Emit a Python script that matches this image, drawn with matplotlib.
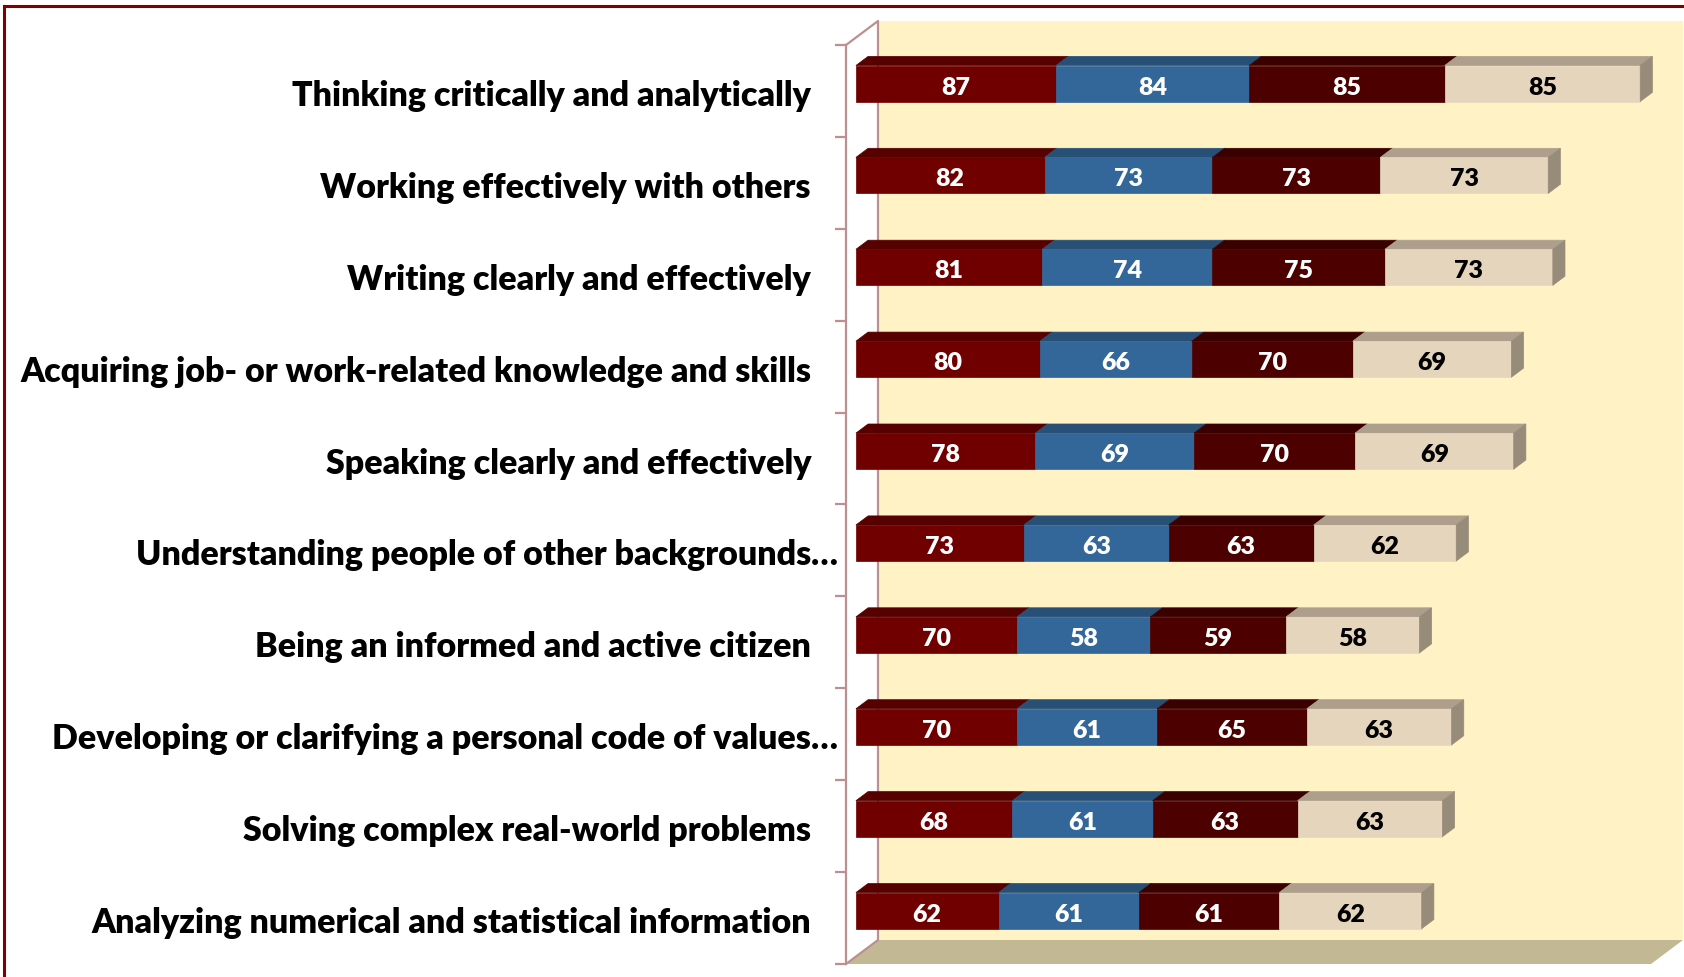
import numpy as np
import matplotlib.pyplot as plt
from matplotlib.patches import Polygon
from matplotlib.lines import Line2D

plt.rcParams['font.family'] = ['Lato', 'DejaVu Sans']

# --- DATOS ---
categories = [
    "Thinking critically and analytically",
    "Working effectively with others",
    "Writing clearly and effectively",
    "Acquiring job- or work-related knowledge and skills",
    "Speaking clearly and effectively",
    "Understanding people of other backgrounds…",
    "Being an informed and active citizen",
    "Developing or clarifying a personal code of values…",
    "Solving complex real-world problems",
    "Analyzing numerical and statistical information",
]
series_1 = [87, 82, 81, 80, 78, 73, 70, 70, 68, 62]
series_2 = [84, 73, 74, 66, 69, 63, 58, 61, 61, 61]
series_3 = [85, 73, 75, 70, 70, 63, 59, 65, 63, 61]
series_4 = [85, 73, 73, 69, 69, 62, 58, 63, 63, 62]
x_max = 350

# --- ESTILO ---
front_colors = ['#700000', '#346799', '#4C0000', '#E6D5BD']
top_colors = ['#570000', '#284F76', '#3A0000', '#AE9F8D']
side_color = '#978B79'
text_colors = ['white', 'white', 'white', 'black']
wall_color = '#FFF3C6'
floor_color = '#C2B894'
axis_color = '#BC9090'
border_color = '#7F0000'
LABEL_SIZE, VALUE_SIZE, WEIGHT = 24.5, 18, 'heavy'

W, H = 1684, 977
AX_L, AX_R, AX_T, AX_B = 846, 1684, 45, 964
PX_UNIT = 2.3
n = len(categories)
row_px = (AX_B - AX_T) / n
DEPTH_DX = 32 / PX_UNIT       # profundidad de la caja 3D (unidades de datos)
DEPTH_DY = 24 / row_px
D0, D1 = 0.31, 0.69           # profundidad de las barras
BAR_H = 36 / row_px


def proj(v, d, y):
    return (v + d * DEPTH_DX, y - d * DEPTH_DY)


fig = plt.figure(figsize=(W / 100, H / 100), dpi=100)
ax = fig.add_axes([AX_L / W, 1 - AX_B / H, (AX_R - AX_L) / W, (AX_B - AX_T) / H])
ax.set_xlim(0, (AX_R - AX_L) / PX_UNIT)
ax.set_ylim(n - 0.5, -0.5)
ax.patch.set_alpha(0)

# Paredes
back = [proj(0, 1, -0.5), proj(x_max, 1, -0.5), proj(x_max, 1, n - 0.5), proj(0, 1, n - 0.5)]
ax.add_patch(Polygon(back, closed=True, color=wall_color, lw=0, clip_on=False, zorder=0))
floor = [proj(0, 0, n - 0.5), proj(x_max, 0, n - 0.5), proj(x_max, 1, n - 0.5), proj(0, 1, n - 0.5)]
ax.add_patch(Polygon(floor, closed=True, color=floor_color, lw=0, clip_on=False, zorder=0))
side = [proj(0, 0, -0.5), proj(0, 1, -0.5), proj(0, 1, n - 0.5), proj(0, 0, n - 0.5)]
ax.plot(*zip(*side), color=axis_color, lw=1.6, clip_on=False, zorder=1)

# Eje frontal
for s in ['top', 'right', 'bottom']:
    ax.spines[s].set_visible(False)
ax.spines['left'].set_color(axis_color)
ax.spines['left'].set_linewidth(1.6)
ax.set_xticks([])
ax.set_yticks(np.arange(-0.5, n, 1))
ax.tick_params(axis='y', length=8, width=1.6, color=axis_color, labelleft=False)

# Barras apiladas 3D
series = [series_1, series_2, series_3, series_4]
ddx = (D1 - D0) * DEPTH_DX
ddy = (D1 - D0) * DEPTH_DY
for i in range(n):
    x0, yc = proj(0, D0, i)
    top_y, bot_y = yc - BAR_H / 2, yc + BAR_H / 2
    left = x0
    for k, s in enumerate(series):
        v = s[i]
        right = left + v
        ax.add_patch(Polygon([(left, top_y), (right, top_y), (right + ddx, top_y - ddy),
                              (left + ddx, top_y - ddy)], closed=True, color=top_colors[k],
                             lw=0.5, clip_on=False, zorder=3))
        ax.barh(yc, v, left=left, height=BAR_H, color=front_colors[k],
                edgecolor=front_colors[k], lw=0.5, zorder=3)
        ax.text((left + right) / 2, yc + 11 / row_px, str(v), ha='center', va='baseline',
                fontsize=VALUE_SIZE, fontweight=WEIGHT, color=text_colors[k], zorder=5)
        left = right
    ax.add_patch(Polygon([(left, top_y), (left + ddx, top_y - ddy), (left + ddx, bot_y - ddy),
                          (left, bot_y)], closed=True, color=side_color, lw=0.5,
                         clip_on=False, zorder=3))

# Etiquetas de categoría
label_x = -35 / PX_UNIT
for i, lab in enumerate(categories):
    y = i + 15 / row_px
    if lab.endswith('…'):
        ax.text(label_x, y, lab[:-1], ha='right', va='baseline', fontsize=LABEL_SIZE,
                fontweight=WEIGHT, clip_on=False)
        ax.text(label_x, y, '…', ha='left', va='baseline', fontsize=LABEL_SIZE,
                fontweight=WEIGHT, clip_on=False)
    else:
        ax.text(label_x, y, lab, ha='right', va='baseline', fontsize=LABEL_SIZE,
                fontweight=WEIGHT, clip_on=False)

# Marco exterior
fig.add_artist(Line2D([4 / W, 4 / W], [0, 1 - 6 / H], color=border_color, lw=2.2))
fig.add_artist(Line2D([4 / W, 1], [1 - 6 / H, 1 - 6 / H], color=border_color, lw=2.2))

fig.savefig('out.png', dpi=100, facecolor='white')
